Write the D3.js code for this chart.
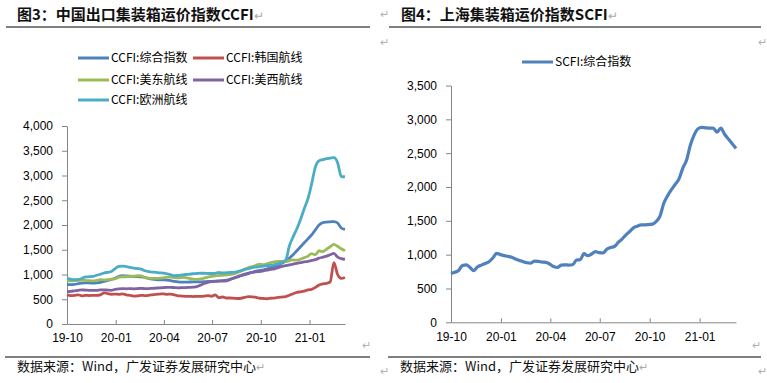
<!DOCTYPE html>
<html>
<head>
<meta charset="utf-8">
<script src="https://cdn.jsdelivr.net/npm/d3@7/dist/d3.min.js"></script>
<style>
  body { margin: 0; background: #fff; }
  svg { display: block; }
  .tick text { font-family: Arial, "Liberation Sans", sans-serif; font-size: 12px; fill: #000; }
</style>
</head>
<body>
<div id="chart"></div>
<script>
// weekly observations, Oct 2019 - Mar 2021
const startDate = new Date(2019, 9, 1);
const weekCount = 76;
const monthTicks = ['2019-10', '2020-01', '2020-04', '2020-07', '2020-10', '2021-01'];

const ccfiNames = ['CCFI:综合指数', 'CCFI:韩国航线', 'CCFI:美东航线', 'CCFI:美西航线', 'CCFI:欧洲航线'];
const ccfiComposite = [800, 795, 800, 815, 825, 830, 830, 825, 830, 840, 860, 880, 900, 925, 965, 975, 970, 965, 960, 955,
  950, 940, 920, 905, 895, 890, 890, 885, 875, 860, 850, 845, 845, 848, 850, 850, 852, 855, 860, 862,
  865, 870, 878, 885, 905, 925, 950, 975, 995, 1020, 1045, 1070, 1085, 1095, 1115, 1140, 1165, 1195, 1230, 1270,
  1330, 1400, 1480, 1560, 1640, 1720, 1800, 1900, 2000, 2050, 2060, 2065, 2070, 2040, 1940, 1910];
const ccfiKorea = [590, 575, 580, 590, 570, 580, 575, 580, 580, 590, 630, 615, 600, 605, 600, 610, 590, 580, 565, 570,
  580, 575, 580, 590, 600, 605, 610, 600, 605, 590, 570, 565, 560, 560, 555, 560, 560, 565, 575, 560,
  590, 530, 545, 525, 525, 520, 515, 520, 540, 555, 550, 540, 520, 515, 510, 520, 525, 540, 545, 555,
  580, 610, 640, 650, 665, 690, 700, 740, 790, 810, 820, 850, 1240, 1000, 920, 940];
const ccfiUsEast = [880, 870, 875, 880, 885, 880, 875, 870, 880, 895, 890, 895, 905, 915, 945, 955, 955, 960, 965, 975,
  970, 935, 925, 920, 920, 925, 930, 945, 945, 935, 930, 940, 935, 920, 905, 900, 910, 925, 945, 960,
  975, 980, 985, 990, 1000, 1010, 1040, 1070, 1105, 1140, 1160, 1185, 1210, 1200, 1220, 1240, 1255, 1265, 1265, 1260,
  1280, 1295, 1290, 1310, 1340, 1370, 1420, 1400, 1480, 1460, 1510, 1560, 1610, 1570, 1520, 1480];
const ccfiUsWest = [655, 660, 670, 680, 690, 685, 680, 680, 680, 690, 690, 685, 680, 700, 710, 715, 710, 715, 710, 715,
  720, 715, 715, 720, 725, 730, 735, 740, 740, 735, 730, 735, 735, 740, 745, 755, 785, 820, 840, 855,
  862, 865, 865, 870, 900, 930, 960, 985, 1010, 1030, 1045, 1055, 1060, 1075, 1090, 1105, 1115, 1140, 1165, 1180,
  1195, 1210, 1225, 1240, 1255, 1265, 1285, 1300, 1330, 1350, 1370, 1400, 1425, 1350, 1320, 1305];
const ccfiEurope = [920, 905, 895, 900, 920, 950, 955, 960, 985, 1005, 1030, 1045, 1060, 1120, 1165, 1170, 1160, 1145, 1130, 1120,
  1110, 1075, 1060, 1050, 1045, 1035, 1030, 1015, 995, 975, 980, 990, 1000, 1005, 1015, 1020, 1025, 1025, 1020, 1020,
  1025, 1040, 1030, 1035, 1040, 1045, 1060, 1080, 1105, 1120, 1140, 1150, 1160, 1170, 1180, 1185, 1200, 1220, 1245, 1290,
  1580, 1760, 1920, 2110, 2330, 2530, 2830, 3170, 3300, 3320, 3340, 3350, 3360, 3260, 2980, 2975];

const scfiName = 'SCFI:综合指数';
const scfiComposite = [720, 740, 765, 840, 850, 810, 765, 820, 845, 870, 895, 950, 1020, 1000, 985, 975, 960, 935, 915, 895,
  880, 875, 905, 900, 890, 885, 860, 825, 810, 845, 850, 845, 850, 920, 925, 1015, 985, 1010, 1045, 1030,
  1025, 1080, 1105, 1120, 1180, 1230, 1290, 1340, 1395, 1420, 1440, 1440, 1445, 1450, 1490, 1570, 1760, 1870, 1960, 2040,
  2120, 2280, 2400, 2620, 2770, 2860, 2880, 2875, 2870, 2870, 2810, 2870, 2780, 2710, 2640, 2570];

const leftTicks = [0, 500, 1000, 1500, 2000, 2500, 3000, 3500, 4000];
const rightTicks = [0, 500, 1000, 1500, 2000, 2500, 3000, 3500];

const colors = ['#4F81BD', '#C0504D', '#9BBB59', '#8064A2', '#4BACC6'];
const cjk = '"Noto Sans CJK SC", "Noto Sans", sans-serif';
const latin = 'Arial, "Liberation Sans", sans-serif';

const weeks = d3.range(weekCount).map(i => d3.timeDay.offset(startDate, i * 7));
const tickDates = monthTicks.map(d3.timeParse('%Y-%m'));

const svg = d3.select('#chart').append('svg')
  .attr('width', 767).attr('height', 383);
svg.append('rect').attr('width', 767).attr('height', 383).attr('fill', '#fff');

function drawPanel(p) {
  const x = d3.scaleTime().domain([weeks[0], weeks[weeks.length - 1]]).range([p.left, p.right]);
  const y = d3.scaleLinear().domain([0, p.max]).range([p.bottom, p.top]);

  const yAxis = svg.append('g').attr('transform', `translate(${p.left},0)`)
    .call(d3.axisLeft(y).tickValues(p.ticks).tickFormat(d3.format(',')).tickSizeInner(5).tickSizeOuter(0).tickPadding(9));
  const xAxis = svg.append('g').attr('transform', `translate(0,${p.bottom})`)
    .call(d3.axisBottom(x).tickValues(tickDates).tickFormat(d3.timeFormat('%y-%m')).tickSizeInner(-4).tickSizeOuter(0).tickPadding(p.xPad));
  xAxis.selectAll('text').attr('dy', '0.71em');
  [yAxis, xAxis].forEach(a => {
    a.selectAll('line').attr('stroke', '#868686');
    a.selectAll('.domain').attr('stroke', '#868686');
  });

  const line = d3.line().x((d, i) => x(weeks[i])).y(d => y(d)).curve(d3.curveMonotoneX);
  p.series.forEach((s, k) => {
    svg.append('path').datum(s)
      .attr('fill', 'none')
      .attr('stroke', p.colors[k])
      .attr('stroke-width', p.lineWidth)
      .attr('stroke-linejoin', 'round')
      .attr('d', line);
  });

  p.legend.forEach((item, k) => {
    const g = svg.append('g').attr('transform', `translate(${item[0]},${item[1]})`);
    g.append('line').attr('x1', 0).attr('x2', 31).attr('stroke', p.colors[k]).attr('stroke-width', 3);
    g.append('text').attr('x', 33).attr('dy', '0.35em')
      .style('font-family', cjk).style('font-size', '12px').text(p.names[k]);
  });
}

drawPanel({
  left: 67, right: 345, top: 126, bottom: 324, max: 4000, ticks: leftTicks, xPad: 9,
  series: [ccfiComposite, ccfiKorea, ccfiUsEast, ccfiUsWest, ccfiEurope],
  colors: colors, names: ccfiNames, lineWidth: 2.8,
  legend: [[78, 58], [193, 58], [78, 80], [193, 80], [78, 100]]
});

drawPanel({
  left: 451, right: 736, top: 85.5, bottom: 322.3, max: 3500, ticks: rightTicks, xPad: 10,
  series: [scfiComposite],
  colors: [colors[0]], names: [scfiName], lineWidth: 3.2,
  legend: [[522, 62]]
});

// titles, rules and footers
const titles = [
  { x: 17, text: '图3：中国出口集装箱运价指数CCFI', rule: [6, 370] },
  { x: 401, text: '图4：上海集装箱运价指数SCFI', rule: [389, 761] }
];
titles.forEach(t => {
  const txt = svg.append('text').attr('x', t.x).attr('y', 20)
    .style('font-family', cjk).style('font-size', '15px').style('font-weight', 'bold').style('fill', '#111')
    .text(t.text);
  txt.append('tspan').style('fill', '#aaa').style('font-weight', 'normal').style('font-size', '12px').text('↵');
  svg.append('line').attr('x1', t.rule[0]).attr('x2', t.rule[1]).attr('y1', 27).attr('y2', 27)
    .attr('stroke', '#000').attr('stroke-width', 1);
});

const footers = [
  { x: 17, rule: [5, 370] },
  { x: 400, rule: [388, 761] }
];
footers.forEach(f => {
  svg.append('line').attr('x1', f.rule[0]).attr('x2', f.rule[1]).attr('y1', 357).attr('y2', 357)
    .attr('stroke', '#000').attr('stroke-width', 1);
  const txt = svg.append('text').attr('x', f.x).attr('y', 371)
    .style('font-family', cjk).style('font-size', '13px').style('fill', '#111')
    .text('数据来源：Wind，广发证券发展研究中心');
  txt.append('tspan').style('fill', '#aaa').style('font-size', '11px').text('↵');
});

// paragraph marks from the source document
const marks = [[380, 18], [380, 46], [758, 46], [362, 349], [752, 349], [380, 375], [758, 375]];
marks.forEach(m => {
  svg.append('text').attr('x', m[0]).attr('y', m[1])
    .style('font-family', latin).style('font-size', '11px').style('fill', '#b0b0b0').text('↵');
});
</script>
</body>
</html>
